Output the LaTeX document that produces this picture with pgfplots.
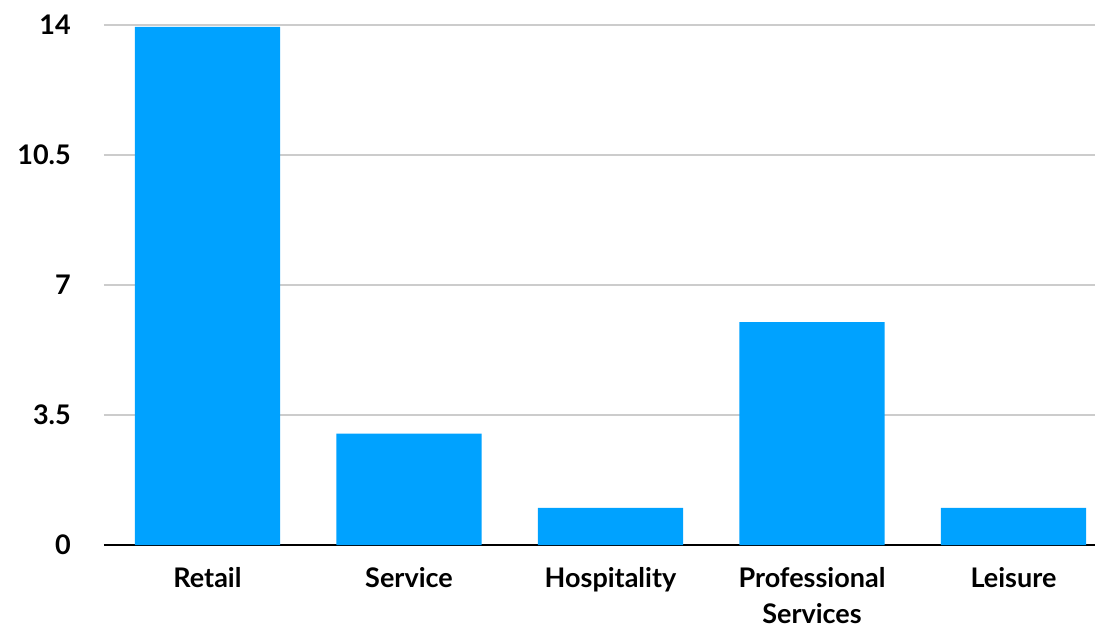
\documentclass[border=0pt]{standalone}
\usepackage{pgfplots}
\pgfplotsset{compat=1.18}
\usepackage{fontspec}
\setmainfont{Lato}
\definecolor{barblue}{HTML}{00A2FF}
\definecolor{gridgray}{HTML}{CCCCCC}
\begin{document}
\fontsize{27bp}{36bp}\selectfont
\begin{tikzpicture}
\useasboundingbox (-104bp,-83bp) rectangle (991bp,545bp);
\begin{axis}[
  at={(0,0)}, anchor=south west,
  scale only axis,
  width=991bp, height=520bp,
  xmin=-0.5137, xmax=4.4045,
  ymin=0, ymax=14,
  axis lines=left,
  axis line style={-},
  y axis line style={draw=none},
  x axis line style={black, line width=1.8bp},
  major tick length=0pt,
  xtick={0,1,2,3,4},
  xticklabels={Retail,Service,Hospitality,Professional\\Services,Leisure},
  ytick={0,3.5,7,10.5,14},
  yticklabels={0,3.5,7,10.5,14},
  ymajorgrids,
  grid style={gridgray, line width=1.2bp},
  xticklabel style={font=\fontsize{27bp}{36bp}\bfseries, align=center, anchor=north, inner sep=0pt, yshift=-22bp},
  yticklabel style={font=\fontsize{27bp}{36bp}\bfseries, anchor=east, inner sep=0pt, xshift=-33bp},
  clip=false,
]
\addplot[ybar, bar width=0.72, fill=barblue, draw=none] coordinates {
  (0,13.95) (1,3) (2,1) (3,6) (4,1)
};
\end{axis}
\end{tikzpicture}
\end{document}
